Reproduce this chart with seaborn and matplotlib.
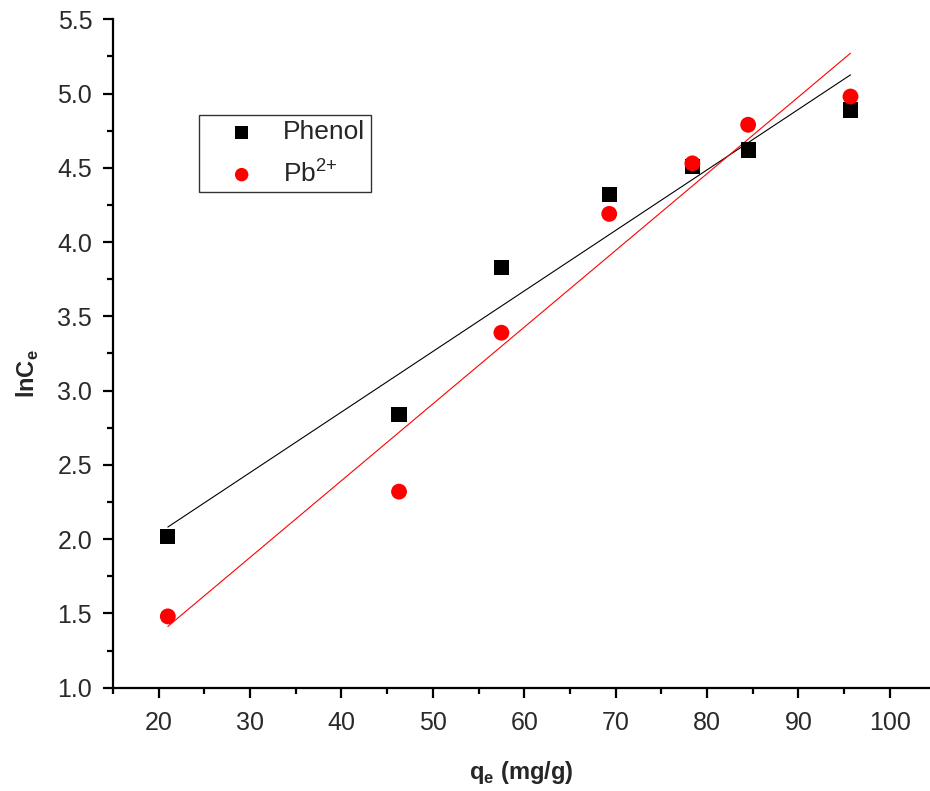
import numpy as np
import pandas as pd
import matplotlib
matplotlib.use("Agg")
import matplotlib.pyplot as plt
import seaborn as sns
from matplotlib.ticker import MultipleLocator

# Data
qe = [21.0, 46.3, 57.5, 69.3, 78.4, 84.5, 95.7]
phenol_lnce = [2.02, 2.84, 3.83, 4.32, 4.51, 4.62, 4.89]
pb_lnce = [1.48, 2.32, 3.39, 4.19, 4.53, 4.79, 4.98]
series_labels = ["Phenol", "Pb$^{2{+}}$"]

sns.set_theme(style="white")
plt.rcParams["font.family"] = ["Liberation Sans", "DejaVu Sans"]
plt.rcParams["mathtext.fontset"] = "custom"
plt.rcParams["mathtext.rm"] = "Liberation Sans"
plt.rcParams["mathtext.bf"] = "Liberation Sans:bold"

fig = plt.figure(figsize=(9.3, 7.91), dpi=100)
ax = fig.add_axes([0.1215, 0.1306, 0.8785, 0.8450])

df_ph = pd.DataFrame({"qe": qe, "lnce": phenol_lnce})
df_pb = pd.DataFrame({"qe": qe, "lnce": pb_lnce})

sns.regplot(data=df_ph, x="qe", y="lnce", scatter=False, ci=None, truncate=True,
            ax=ax, line_kws=dict(color="black", lw=0.8))
sns.regplot(data=df_pb, x="qe", y="lnce", scatter=False, ci=None, truncate=True,
            ax=ax, line_kws=dict(color="red", lw=0.8))

sns.scatterplot(data=df_ph, x="qe", y="lnce", marker="s", s=120, color="black",
                edgecolor="none", ax=ax, label=series_labels[0], zorder=3)
sns.scatterplot(data=df_pb, x="qe", y="lnce", marker="o", s=130, color="red",
                edgecolor="none", ax=ax, label=series_labels[1], zorder=3)

ax.set_xlim(15, 104.4)
ax.set_ylim(1.0, 5.5)
ax.xaxis.set_major_locator(MultipleLocator(10))
ax.xaxis.set_minor_locator(MultipleLocator(5))
ax.yaxis.set_major_locator(MultipleLocator(0.5))
ax.yaxis.set_minor_locator(MultipleLocator(0.25))
ax.yaxis.set_major_formatter(matplotlib.ticker.FormatStrFormatter("%.1f"))
ax.set_xticks([20, 30, 40, 50, 60, 70, 80, 90, 100])

for s in ["top", "right"]:
    ax.spines[s].set_visible(False)
for s in ["left", "bottom"]:
    ax.spines[s].set_color("black")
    ax.spines[s].set_linewidth(1.6)

ax.tick_params(which="major", direction="out", length=7, width=1.6, color="black",
               labelsize=18, labelcolor="#2a2a2a", left=True, bottom=True)
ax.tick_params(axis="x", which="major", pad=10)
ax.tick_params(axis="y", which="major", pad=8)
ax.tick_params(which="minor", direction="out", length=4, width=1.6, color="black",
               left=True, bottom=True)

ax.set_xlabel(r"q$_\mathbf{e}$ (mg/g)", fontsize=17, fontweight="bold")
ax.set_ylabel(r"lnC$_\mathbf{e}$", fontsize=17, fontweight="bold")
ax.xaxis.set_label_coords(0.5, -0.107)
ax.yaxis.set_label_coords(-0.088, 0.47)

leg = ax.legend(loc="upper left", bbox_to_anchor=(0.105, 0.857), borderaxespad=0,
                fontsize=19, frameon=True, fancybox=False, edgecolor="black",
                handletextpad=0.15, borderpad=0.2, labelspacing=0.55, markerscale=0.85,
                handlelength=2.85)
leg.get_frame().set_linewidth(1.0)

fig.savefig("out.png", dpi=100)
